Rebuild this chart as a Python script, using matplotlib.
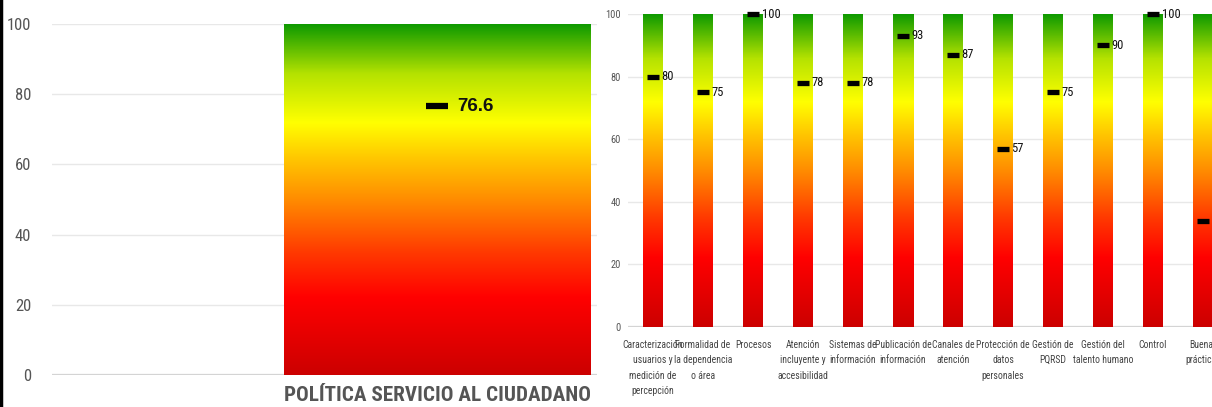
import matplotlib
matplotlib.use("Agg")
import matplotlib.pyplot as plt
import numpy as np
from matplotlib import font_manager
from matplotlib.colors import LinearSegmentedColormap
from matplotlib.lines import Line2D

# data
total_label = "POLÍTICA SERVICIO AL CIUDADANO"
total_value = 76.6

categories = [
    "Caracterización\nusuarios y\nmedición de\npercepción",
    "Formalidad de\nla dependencia\no área",
    "Procesos",
    "Atención\nincluyente y\naccesibilidad",
    "Sistemas de\ninformación",
    "Publicación de\ninformación",
    "Canales de\natención",
    "Protección de\ndatos\npersonales",
    "Gestión de\nPQRSD",
    "Gestión del\ntalento humano",
    "Control",
    "Buenas\nprácticas",
]
values = [80, 75, 100, 78, 78, 93, 87, 57, 75, 90, 100, 34]
yticks = [0, 20, 40, 60, 80, 100]


def pick_font(names):
    for n in names:
        try:
            font_manager.findfont(font_manager.FontProperties(family=n), fallback_to_default=False)
            return n
        except Exception:
            pass
    return "DejaVu Sans"


narrow = pick_font(["Liberation Sans Narrow", "Roboto Condensed", "Open Sans Condensed", "Liberation Sans"])
regular = pick_font(["Liberation Sans", "Arial", "DejaVu Sans"])

cmap = LinearSegmentedColormap.from_list("semaforo", [
    (0.00, "#cc0000"),
    (0.22, "#ff0000"),
    (0.35, "#ff3a00"),
    (0.50, "#ff8c00"),
    (0.62, "#ffc800"),
    (0.72, "#ffff00"),
    (0.86, "#b4e200"),
    (1.00, "#0f9a00"),
])
grad = np.linspace(0, 1, 256).reshape(-1, 1)

W, H = 1212, 407
fig = plt.figure(figsize=(W / 100, H / 100), dpi=100)


def gradient_bar(ax, x, width):
    ax.imshow(grad, cmap=cmap, origin="lower", aspect="auto",
              extent=[x - width / 2, x + width / 2, 0, 100], zorder=2)


def style_axes(ax):
    for s in ax.spines.values():
        s.set_visible(False)
    ax.set_ylim(0, 100)
    ax.set_yticks(yticks)
    ax.grid(axis="y", color="#e8e8e8", lw=1, zorder=0)
    ax.axhline(0, color="#d0d0d0", lw=1.6, zorder=1)
    ax.tick_params(length=0)


# left panel: overall score
ax1 = fig.add_axes([52 / W, (H - 375) / H, 545 / W, 351 / H])
style_axes(ax1)
bw1 = 0.8
gradient_bar(ax1, 0, bw1)
ax1.set_xlim(-1.0065, 0.418)
ax1.hlines(total_value, -0.029, 0.029, color="black", lw=4.5, zorder=3, clip_on=False)
ax1.text(0.052, total_value, f"{total_value}", fontsize=13.5, fontweight="bold",
         family=regular, color="#111111", va="center", ha="left", zorder=4)
ax1.set_xticks([0])
ax1.set_xticklabels([total_label], fontsize=15.2, family=narrow, fontweight="bold", color="#555555")
ax1.tick_params(axis="x", pad=8)
ax1.tick_params(axis="y", pad=15, labelsize=12, labelcolor="#555555")
for t in ax1.get_yticklabels():
    t.set_family(narrow)

# right panel: components
ax2 = fig.add_axes([628 / W, (H - 327) / H, 600 / W, 313 / H])
style_axes(ax2)
bw2 = 0.4
x = np.arange(len(values))
for xi in x:
    gradient_bar(ax2, xi, bw2)
ax2.set_xlim(-0.5, len(values) - 0.5)
ax2.hlines(values, x - 0.12, x + 0.12, color="black", lw=3.8, zorder=3, clip_on=False)
for xi, v in zip(x, values):
    ax2.text(xi + 0.17, v, f"{v}", fontsize=9, family=narrow, color="#111111",
             va="center", ha="left", zorder=4)
ax2.set_xticks(x)
ax2.set_xticklabels(categories, fontsize=7.0, family=narrow, color="#444444",
                    va="top", linespacing=1.7)
ax2.tick_params(axis="x", pad=9)
ax2.tick_params(axis="y", pad=5, labelsize=7.5, labelcolor="#555555")
for t in ax2.get_yticklabels():
    t.set_family(narrow)

# black border on left edge
fig.add_artist(Line2D([1 / W, 1 / W], [0, 1], color="black", lw=2.5, transform=fig.transFigure))

fig.savefig("out.png", dpi=100)
